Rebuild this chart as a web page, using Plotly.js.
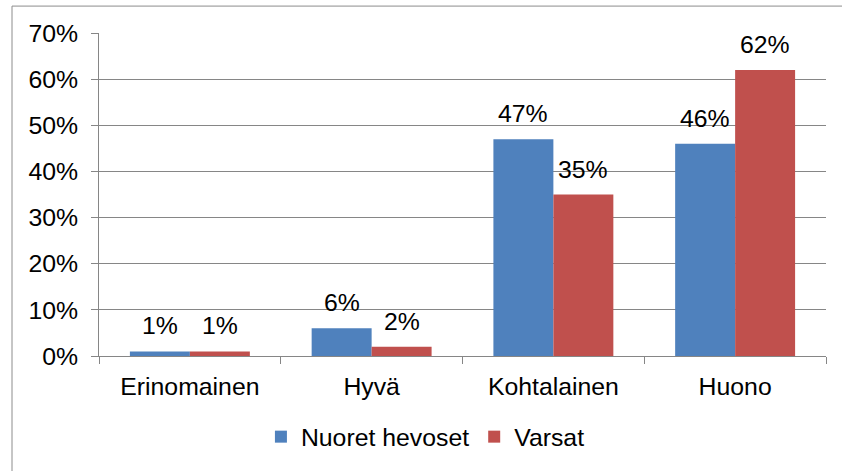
<!DOCTYPE html>
<html>
<head>
<meta charset="utf-8">
<script src="https://cdn.plot.ly/plotly-3.0.1.min.js"></script>
<style>
html,body{margin:0;padding:0;background:#fff;}
#chart{width:842px;height:471px;}
</style>
</head>
<body>
<div id="chart"></div>
<script>
const categories = ["Erinomainen", "Hyvä", "Kohtalainen", "Huono"];
const seriesNames = ["Nuoret hevoset", "Varsat"];
const nuoretHevoset = [1, 6, 47, 46];
const varsat = [1, 2, 35, 62];
const yTickVals = [0, 10, 20, 30, 40, 50, 60, 70];
const yTickText = ["0%", "10%", "20%", "30%", "40%", "50%", "60%", "70%"];

const FONT = "Liberation Sans, Arial, sans-serif";
const FS = 24.8;
const GRID = "#868686";
const BAR_HALF = 30;

function barTrace(name, values, color) {
  return {
    type: "bar",
    name: name,
    x: categories,
    y: values,
    marker: {color: color},
    hoverinfo: "none"
  };
}

const data = [
  barTrace(seriesNames[0], nuoretHevoset, "#4F81BD"),
  barTrace(seriesNames[1], varsat, "#C0504D")
];

const annotations = [];
[nuoretHevoset, varsat].forEach((vals, s) => {
  vals.forEach((v, i) => {
    annotations.push({
      x: categories[i], y: v, xref: "x", yref: "y",
      text: v + "%", showarrow: false,
      xanchor: "center", yanchor: "bottom",
      xshift: s === 0 ? -BAR_HALF : BAR_HALF, yshift: 10,
      font: {family: FONT, size: FS, color: "#000"}
    });
  });
});

const ml = 99, mr = 16, mt = 33, mb = 114;
const pw = 842 - ml - mr, ph = 471 - mt - mb;

const layout = {
  width: 842, height: 471,
  margin: {l: ml, r: mr, t: mt, b: mb, pad: 0},
  paper_bgcolor: "#fff", plot_bgcolor: "#fff",
  font: {family: FONT, size: FS, color: "#000"},
  barmode: "group",
  bargap: 0.34,
  bargroupgap: 0,
  showlegend: true,
  legend: {
    orientation: "h",
    x: 0.449, xanchor: "center",
    y: -0.247, yanchor: "middle",
    font: {family: FONT, size: FS, color: "#000"},
    itemclick: false, itemdoubleclick: false,
    tracegroupgap: 0
  },
  xaxis: {
    type: "category",
    tickson: "boundaries",
    ticks: "outside", ticklen: 7, tickcolor: GRID, tickwidth: 1,
    showline: true, linecolor: GRID, linewidth: 1,
    showgrid: false, zeroline: false,
    tickfont: {family: FONT, size: FS, color: "#000"},
    ticklabelstandoff: 8
  },
  yaxis: {
    range: [0, 70],
    tickvals: yTickVals, ticktext: yTickText,
    ticks: "outside", ticklen: 7, tickcolor: GRID, tickwidth: 1,
    showline: true, linecolor: GRID, linewidth: 1,
    showgrid: true, gridcolor: GRID, gridwidth: 1,
    zeroline: false,
    tickfont: {family: FONT, size: FS, color: "#000"},
    ticklabelstandoff: 8
  },
  annotations: annotations,
  shapes: [
    {type: "line", xref: "paper", yref: "paper",
     x0: (12 - ml) / pw, x1: (12 - ml) / pw,
     y0: -0.5, y1: 1 + (mt - 6) / ph,
     line: {color: "#8c8c8c", width: 1}},
    {type: "line", xref: "paper", yref: "paper",
     x0: (12 - ml) / pw, x1: 1.2,
     y0: 1 + (mt - 6) / ph, y1: 1 + (mt - 6) / ph,
     line: {color: "#8c8c8c", width: 1}}
  ]
};

Plotly.newPlot("chart", data, layout, {staticPlot: true, displayModeBar: false});
</script>
</body>
</html>
